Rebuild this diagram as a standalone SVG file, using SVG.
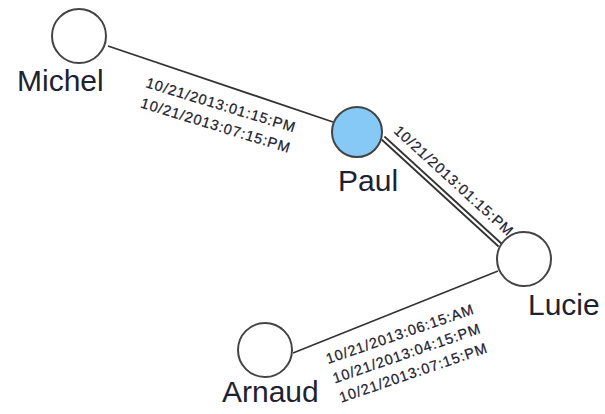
<svg xmlns="http://www.w3.org/2000/svg" width="605" height="414" viewBox="0 0 605 414">
<style>
.node{fill:#fff;stroke:#444;stroke-width:2}
.sel{fill:#86c9f7}
.lbl{font-family:"Liberation Sans",Arial,sans-serif;font-size:30px;fill:#1e2230}
.ts{font-family:"Liberation Sans",Arial,sans-serif;font-size:14.5px;fill:#1e2230;stroke:#1e2230;stroke-width:0.25}
.edge{stroke:#333;stroke-width:1.8;fill:none}
</style>
<rect width="605" height="414" fill="#fff"/>
<g id="connectors">
<line class="edge" x1="108" y1="46" x2="333" y2="122"/>
<line class="edge" x1="381.6" y1="139.5" x2="498.6" y2="246.5"/>
<line class="edge" x1="384.4" y1="136.5" x2="501.4" y2="243.5"/>
<line class="edge" x1="293" y1="353" x2="498" y2="271"/>
<g transform="translate(145,87) rotate(17)">
<text class="ts" x="0" y="0" textLength="155" lengthAdjust="spacing">10/21/2013:01:15:PM</text>
<text class="ts" x="1" y="21" textLength="155" lengthAdjust="spacing">10/21/2013:07:15:PM</text>
</g>
<g transform="translate(393,132) rotate(42.4)">
<text class="ts" x="0" y="0" textLength="155" lengthAdjust="spacing">10/21/2013:01:15:PM</text>
</g>
<g transform="translate(328,364) rotate(-19)">
<text class="ts" x="0" y="0" textLength="155" lengthAdjust="spacing">10/21/2013:06:15:AM</text>
<text class="ts" x="0" y="20.5" textLength="155" lengthAdjust="spacing">10/21/2013:04:15:PM</text>
<text class="ts" x="0" y="41" textLength="155" lengthAdjust="spacing">10/21/2013:07:15:PM</text>
</g>
</g>
<g id="michel">
<circle class="node" cx="79" cy="36" r="27"/>
<text class="lbl" x="17" y="91">Michel</text>
</g>
<g id="paul">
<circle class="node sel" cx="357" cy="132" r="25"/>
<text class="lbl" x="338" y="191">Paul</text>
</g>
<g id="lucie">
<circle class="node" cx="524" cy="259" r="27"/>
<text class="lbl" x="528" y="315">Lucie</text>
</g>
<g id="arnaud">
<circle class="node" cx="265" cy="350" r="27"/>
<text class="lbl" x="222" y="402">Arnaud</text>
</g>
</svg>
